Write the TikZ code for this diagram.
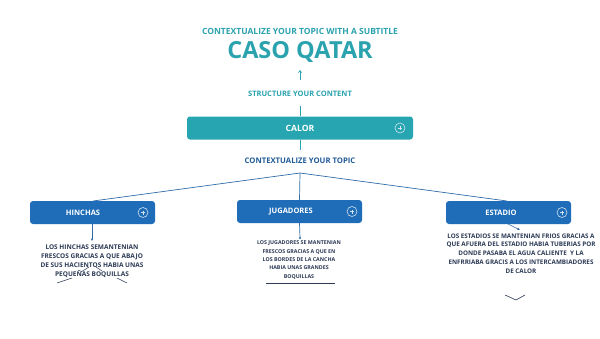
\documentclass[tikz,border=0pt]{standalone}
\usepackage{fontspec}
\setmainfont{Open Sans}
\usetikzlibrary{arrows.meta}
\definecolor{teal1}{HTML}{2AA3AE}
\definecolor{tealbox}{HTML}{27A6B1}
\definecolor{bluebox}{HTML}{1F6DB8}
\definecolor{blueline}{HTML}{2F6CA8}
\definecolor{darkblue}{HTML}{1F5A96}
\definecolor{navy}{HTML}{2B3A55}
\tikzset{
  boxc/.style={rounded corners=3pt, minimum height=23pt, inner sep=0pt},
  lbl/.style={font=\bfseries\fontsize{7.5}{8}\selectfont, text=white},
  body/.style={font=\bfseries\fontsize{6.5}{9}\selectfont, text=navy, align=center, inner sep=0pt},
  conn/.style={draw=blueline, line width=0.7pt},
  plusic/.style={draw=white!80!bluebox, line width=0.6pt},
}
\newcommand{\plusicon}[2]{%
  \draw[plusic] (#1,#2) circle (5);
  \draw[plusic, line width=0.4pt] (#1-2,#2) -- (#1+2,#2) (#1,#2-2) -- (#1,#2+2);}
\begin{document}
\begin{tikzpicture}[x=1pt,y=-1pt]
\useasboundingbox[fill=white] (0,0) rectangle (600,338);
% title block
\node[font=\bfseries\fontsize{8.5}{9}\selectfont, text=teal1] (sub) at (300,31) {CONTEXTUALIZE YOUR TOPIC WITH A SUBTITLE};
\node[font=\bfseries\fontsize{23.5}{26}\selectfont, text=teal1] (title) at (300,51.5) {CASO QATAR};
\coordinate (arrtop) at (300,70);
\node[font=\bfseries\fontsize{7.5}{8}\selectfont, text=teal1] (struct) at (300,94) {STRUCTURE YOUR CONTENT};
\draw[draw=teal1, line width=0.7pt, -{Straight Barb[length=2pt,width=3pt]}] (300,80) -- (arrtop);
% CALOR
\node[boxc, fill=tealbox, minimum width=226pt] (calor) at (300,128) {};
\node[lbl, font=\bfseries\fontsize{8.6}{9}\selectfont] at (calor.center) {CALOR};
\draw[draw=teal1, line width=0.7pt] (struct.south) ++(0,6) -- (calor.north);
\plusicon{400}{128}
\coordinate (hub) at (300,173);
\node[font=\bfseries\fontsize{7.7}{8}\selectfont, text=darkblue] (ctx) at (300,161) {CONTEXTUALIZE YOUR TOPIC};
\draw[draw=tealbox, line width=0.7pt] (calor.south) -- (300,150);
% branch boxes
\node[boxc, fill=bluebox, minimum width=125pt] (hin) at (92.5,212.5) {};
\node[lbl] at (83,212.5) {HINCHAS};
\plusicon{143}{212.5}
\node[boxc, fill=bluebox, minimum width=125pt] (jug) at (299.5,211.5) {};
\node[lbl] at (291,211.5) {JUGADORES};
\plusicon{352}{211.5}
\node[boxc, fill=bluebox, minimum width=125pt] (est) at (508.5,212.5) {};
\node[lbl] at (501,212.5) {ESTADIO};
\plusicon{562}{212.5}
% connectors
\draw[conn] (hub) -- (93,201);
\draw[conn] (hub) -- (jug.north);
\draw[conn] (hub) -- (507,201);
% body texts
\node[body] (thin) at (92,261) {LOS HINCHAS SEMANTENIAN\\FRESCOS GRACIAS A QUE ABAJO\\DE SUS HACIENTOS HABIA UNAS\\PEQUEÑAS BOQUILLAS};
\node[body, font=\bfseries\fontsize{5.3}{8.3}\selectfont] (tjug) at (299,260) {LOS JUGADORES SE MANTENIAN\\FRESCOS GRACIAS A QUE EN\\LOS BORDES DE LA CANCHA\\HABIA UNAS GRANDES\\BOQUILLAS};
\node[body, font=\bfseries\fontsize{6.3}{8.8}\selectfont] (test) at (521,253.5) {LOS ESTADIOS SE MANTENIAN FRIOS GRACIAS A\\QUE AFUERA DEL ESTADIO HABIA TUBERIAS POR\\DONDE PASABA EL AGUA CALIENTE\ \ Y LA\\ENFRRIABA GRACIS A LOS INTERCAMBIADORES\\DE CALOR};
% arrows from boxes to texts
\draw[conn, -{Latex[length=2.5pt,width=2.5pt]}] (92,224) -- (92,241);
\draw[conn] (jug.south) -- (300,238);
\fill[blueline] (300,238) circle (1.2);
\draw[conn, line width=0.6pt, -{Latex[length=2.5pt,width=2.5pt]}] (508,224) -- (520,230);
% decorations
\draw[navy, line width=0.5pt] (57,283) -- (72,278);
\draw[navy, line width=0.5pt] (117,278) -- (127,283);
\draw[navy, line width=0.5pt] (81,272) -- (89,267);
\draw[navy, line width=0.5pt] (96,267) -- (102,271);
\draw[navy, line width=0.7pt] (266,283) -- (335,283);
\draw[navy, line width=0.6pt] (505,295) -- (516,300) -- (525,295);
\end{tikzpicture}
\end{document}
